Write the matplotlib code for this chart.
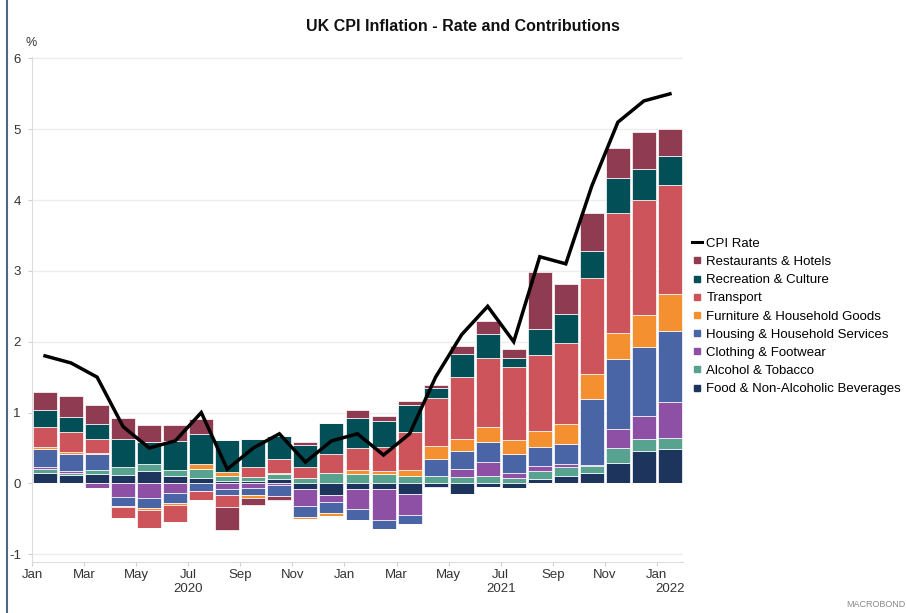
import numpy as np
import matplotlib.pyplot as plt
from matplotlib.lines import Line2D

plt.rcParams['font.family'] = ['Liberation Sans', 'DejaVu Sans']
plt.rcParams['axes.unicode_minus'] = False

# monthly, Jan 2020 .. Jan 2022
months = ["Jan", "Feb", "Mar", "Apr", "May", "Jun", "Jul", "Aug", "Sep", "Oct", "Nov", "Dec"] * 2 + ["Jan"]
cpi = [1.8, 1.7, 1.5, 0.8, 0.5, 0.6, 1.0, 0.2, 0.5, 0.7, 0.3, 0.6,
       0.7, 0.4, 0.7, 1.5, 2.1, 2.5, 2.0, 3.2, 3.1, 4.2, 5.1, 5.4, 5.5]

food = [0.14, 0.12, 0.13, 0.12, 0.17, 0.10, 0.08, 0.04, 0.03, 0.06, -0.08, -0.16,
        -0.08, -0.08, -0.15, -0.05, -0.15, -0.05, -0.07, 0.06, 0.10, 0.15, 0.29, 0.46, 0.49]
alcohol = [0.06, 0.03, 0.06, 0.11, 0.11, 0.09, 0.12, 0.07, 0.06, 0.07, 0.08, 0.14,
           0.13, 0.13, 0.10, 0.10, 0.09, 0.11, 0.08, 0.12, 0.13, 0.09, 0.21, 0.17, 0.15]
clothing = [0.03, 0.02, -0.07, -0.19, -0.20, -0.13, 0.0, -0.08, -0.07, -0.02, -0.24, -0.10,
            -0.28, -0.44, -0.30, -0.02, 0.11, 0.19, 0.07, 0.06, 0.05, 0.02, 0.27, 0.32, 0.51]
housing = [0.26, 0.24, 0.22, -0.13, -0.15, -0.15, -0.11, -0.09, -0.10, -0.16, -0.16, -0.16,
           -0.15, -0.13, -0.12, 0.25, 0.26, 0.28, 0.27, 0.27, 0.28, 0.93, 0.98, 0.97, 1.00]
furniture = [0.03, 0.03, 0.02, -0.02, -0.03, -0.03, 0.07, 0.05, -0.03, 0.02, -0.02, -0.04,
             0.06, 0.04, 0.09, 0.18, 0.17, 0.21, 0.19, 0.23, 0.28, 0.36, 0.38, 0.46, 0.52]
transport = [0.28, 0.28, 0.20, -0.15, -0.25, -0.24, -0.12, -0.16, 0.14, 0.19, 0.15, 0.28,
             0.31, 0.35, 0.53, 0.67, 0.87, 0.98, 1.04, 1.07, 1.14, 1.35, 1.69, 1.62, 1.54]
recreation = [0.23, 0.22, 0.21, 0.39, 0.30, 0.41, 0.43, 0.45, 0.39, 0.33, 0.31, 0.43,
              0.43, 0.36, 0.38, 0.14, 0.32, 0.34, 0.12, 0.37, 0.41, 0.38, 0.49, 0.44, 0.41]
restaurants = [0.26, 0.30, 0.26, 0.30, 0.25, 0.22, 0.21, -0.33, -0.11, -0.06, 0.04, 0.0,
               0.10, 0.07, 0.07, 0.05, 0.12, 0.18, 0.13, 0.81, 0.43, 0.54, 0.43, 0.52, 0.39]

# bottom to top
series = [
    ("Food & Non-Alcoholic Beverages", food, "#1d355d"),
    ("Alcohol & Tobacco", alcohol, "#57a38f"),
    ("Clothing & Footwear", clothing, "#8d50a4"),
    ("Housing & Household Services", housing, "#4965a6"),
    ("Furniture & Household Goods", furniture, "#f4902f"),
    ("Transport", transport, "#ce545b"),
    ("Recreation & Culture", recreation, "#034f58"),
    ("Restaurants & Hotels", restaurants, "#8f3c53"),
]

fig = plt.figure(figsize=(9.07, 6.13), dpi=100)
ax = fig.add_axes([0.0353, 0.0832, 0.7177, 0.8238])

x = np.arange(len(cpi)) + 0.5
pos_bottom = np.zeros(len(cpi))
neg_bottom = np.zeros(len(cpi))
for name, vals, col in series:
    v = np.array(vals)
    p = np.where(v > 0, v, 0)
    n = np.where(v < 0, v, 0)
    ax.bar(x, p, 0.92, bottom=pos_bottom, color=col, edgecolor="white", linewidth=0.5, zorder=2)
    ax.bar(x, n, 0.92, bottom=neg_bottom, color=col, edgecolor="white", linewidth=0.5, zorder=2)
    pos_bottom += p
    neg_bottom += n

ax.plot(x, cpi, color="black", lw=2.5, zorder=3, solid_joinstyle="miter")

ax.set_xlim(0, 25)
ax.set_ylim(-1.11, 6.02)
ax.set_yticks(range(-1, 7))
ax.set_xticks(range(0, 25, 2))
ax.set_xticklabels(months[::2])
ax.tick_params(axis="both", colors="#d0d0d0", labelcolor="#333333", labelsize=9.5, length=3, width=0.8)
ax.tick_params(axis="y", pad=5)
ax.tick_params(axis="x", pad=2)
ax.grid(axis="y", color="#ececec", lw=1, zorder=0)
for s in ["top", "right"]:
    ax.spines[s].set_visible(False)
for s in ["left", "bottom"]:
    ax.spines[s].set_color("#dcdcdc")

# year labels under the month labels
for pos, yr in [(6, "2020"), (18, "2021"), (24.5, "2022")]:
    ax.text(pos, -0.054, yr, transform=ax.get_xaxis_transform(), ha="center", va="center",
            fontsize=9.5, color="#333333")

fig.text(0.51, 0.957, "UK CPI Inflation - Rate and Contributions", ha="center", va="center",
         fontsize=11.5, fontweight="bold", color="#111111")
fig.text(0.028, 0.93, "%", ha="left", va="center", fontsize=9, color="#333333")
fig.text(0.933, 0.006, "MACROBOND", ha="left", va="bottom", fontsize=6.5, color="#8a8a8a")
fig.add_artist(Line2D([0.008, 0.008], [0.0, 1.0], color="#4d6a80", lw=1.5))

handles = [Line2D([], [], color="black", lw=2.2)]
labels = ["CPI Rate"]
for name, vals, col in series[::-1]:
    handles.append(Line2D([], [], ls="", marker="s", markersize=5, color=col))
    labels.append(name)
fig.legend(handles, labels, loc="upper left", bbox_to_anchor=(0.757, 0.621), frameon=False,
           fontsize=9.5, handlelength=0.8, handletextpad=0.3, labelspacing=0.45, borderaxespad=0)

plt.savefig("out.png", dpi=100)
